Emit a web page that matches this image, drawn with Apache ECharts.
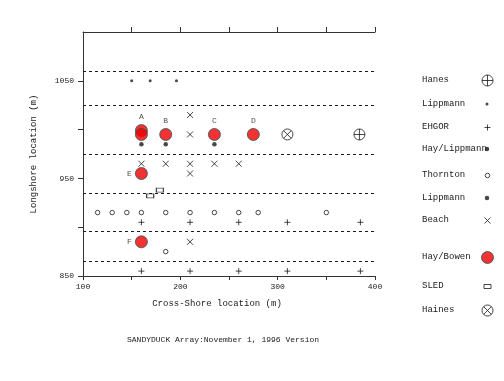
<!DOCTYPE html>
<html><head><meta charset="utf-8">
<script src="https://cdn.jsdelivr.net/npm/echarts@6/dist/echarts.min.js"></script>
<style>html,body{margin:0;padding:0;background:#fff}#c{width:504px;height:381px}</style>
</head><body><div id="c"></div>
<script>
// ---------------- data ----------------
const xTickLabels = [100, 200, 300, 400];
const yTickLabels = [850, 950, 1050];
const yTicks = [850, 900, 950, 1000, 1050];
const xTopTicks = [150, 200, 250, 300, 350, 400];
const boundaryY = [1060, 1025, 975, 935, 896, 865];
const hanes = [[384, 995]];
const lippmannSmall = [[150, 1050], [169, 1050], [196, 1050]];
const ehgor = [[160, 905], [210, 905], [260, 905], [310, 905], [385, 905],
               [160, 855], [210, 855], [260, 855], [310, 855], [385, 855]];
const hayLippmann = [[160, 985], [185, 985], [235, 985]];
const thornton = [[115, 915], [130, 915], [145, 915], [160, 915], [185, 915], [210, 915],
                  [235, 915], [260, 915], [280, 915], [350, 915], [185, 875]];
const lippmannLarge = [];
const beach = [[210, 1015], [210, 995], [160, 965], [185, 965], [210, 965], [235, 965],
               [260, 965], [210, 955], [210, 885]];
const hayBowen = [[160, 999], [160, 995], [185, 995], [235, 995], [275, 995], [160, 955], [160, 885]];
const hayBowenLetters = ['A', '', 'B', 'C', 'D', 'E', 'F'];
const sled = [[169, 932], [179, 938]];
const haines = [[310, 995]];
const legendLabels = ['Hanes', 'Lippmann', 'EHGOR', 'Hay/Lippmann', 'Thornton', 'Lippmann', 'Beach', 'Hay/Bowen', 'SLED', 'Haines'];
const xTitle = 'Cross-Shore location (m)';
const yTitle = 'Longshore location (m)';
const caption = 'SANDYDUCK Array:November 1, 1996 Version';

// ---------------- styles / layout ----------------
const FONT = '"Liberation Mono", "DejaVu Sans Mono", monospace';
const INK = '#1a1a1a';
const SYM = {
  circlePlus: 'path://M0,6A6,6,0,1,0,12,6A6,6,0,1,0,0,6ZM0,6L12,6M6,0L6,12',
  circleX: 'path://M0,6A6,6,0,1,0,12,6A6,6,0,1,0,0,6ZM1.76,1.76L10.24,10.24M10.24,1.76L1.76,10.24',
  plus: 'path://M0,5L10,5M5,0L5,10',
  cross: 'path://M0,0L10,10M10,0L0,10'
};
const stroked = {color: 'transparent', borderColor: INK, borderWidth: 1};
const seriesDefs = [
  {id: 's0', data: hanes, symbol: SYM.circlePlus, size: [11, 11], style: stroked},
  {id: 's1', data: lippmannSmall, symbol: 'circle', size: [3, 3], style: {color: INK}},
  {id: 's2', data: ehgor, symbol: SYM.plus, size: [6, 6], style: stroked},
  {id: 's3', data: hayLippmann, symbol: 'circle', size: [4.5, 4.5], style: {color: INK}},
  {id: 's4', data: thornton, symbol: 'circle', size: [4.5, 4.5], style: {color: '#fff', borderColor: INK, borderWidth: 1}},
  {id: 's5', data: lippmannLarge, symbol: 'circle', size: [4.5, 4.5], style: {color: INK}},
  {id: 's6', data: beach, symbol: SYM.cross, size: [6, 6], style: stroked},
  {id: 's7', data: hayBowen, symbol: 'circle', size: [12, 12], style: {color: '#f00000', borderColor: '#2f4f4f', borderWidth: 1}},
  {id: 's8', data: sled, symbol: 'rect', size: [7, 4], style: {color: '#fff', borderColor: INK, borderWidth: 1}},
  {id: 's9', data: haines, symbol: SYM.circleX, size: [11, 11], style: stroked}
];
const legendRowY = [80, 104, 127, 149, 175, 198, 220, 257, 286, 310];
const legendTextX = 422, legendIconX = 487;

const series = seriesDefs.map((d, i) => ({
  type: 'scatter', name: d.id, z: 3 + i,
  symbol: d.symbol, symbolSize: d.size, symbolKeepAspect: false,
  itemStyle: d.style, emphasis: {disabled: true},
  data: d.data
}));
// Hay/Bowen letters
series[7].data = hayBowen.map((p, i) => ({
  value: p, name: hayBowenLetters[i],
  label: {show: hayBowenLetters[i] !== '',
          position: (hayBowenLetters[i] === 'E' || hayBowenLetters[i] === 'F') ? 'left' : 'top',
          distance: 3, formatter: '{b}', fontFamily: FONT, fontSize: 8, color: INK}
}));
// dashed boundary lines
series[2].markLine = {
  silent: true, symbol: ['none', 'none'], label: {show: false}, animation: false,
  lineStyle: {type: [3, 3], color: INK, width: 1},
  emphasis: {disabled: true},
  data: boundaryY.map(v => ({yAxis: v}))
};

const legends = seriesDefs.map((d, i) => ({
  data: [{name: d.id, icon: d.symbol, itemStyle: d.style}],
  left: legendIconX - d.size[0] / 2,
  top: legendRowY[i] - d.size[1] / 2,
  itemWidth: d.size[0], itemHeight: d.size[1],
  padding: 0, formatter: () => '', selectedMode: false
}));

const graphics = legendLabels.map((t, i) => ({
  type: 'text', x: legendTextX, y: legendRowY[i], silent: true,
  style: {text: t, font: '9px ' + FONT, fill: INK, verticalAlign: 'middle'}
}));

const axisCommon = {
  axisLine: {show: true, lineStyle: {color: '#333', width: 1}},
  splitLine: {show: false}
};

const chart = echarts.init(document.getElementById('c'), null, {renderer: 'canvas'});
chart.setOption({
  animation: false,
  backgroundColor: '#fff',
  title: {text: caption, left: 122, top: 331,
          textStyle: {fontFamily: FONT, fontSize: 8, fontWeight: 'normal', color: INK}},
  grid: {left: 83, right: 129, top: 32, bottom: 105},
  xAxis: [
    Object.assign({
      type: 'value', position: 'bottom', min: 100, max: 400, interval: 50,
      name: xTitle, nameLocation: 'middle', nameGap: 23,
      nameTextStyle: {fontFamily: FONT, fontSize: 9, color: INK, padding: [0, 24, 0, 0]},
      axisTick: {show: true, length: 4, lineStyle: {color: '#333'}},
      axisLabel: {margin: 7, fontFamily: FONT, fontSize: 8, color: INK,
                  formatter: v => xTickLabels.includes(v) ? String(v) : ''}
    }, axisCommon),
    Object.assign({
      type: 'value', position: 'top', min: 100, max: 400, interval: 50,
      axisTick: {show: true, length: 5, customValues: xTopTicks, lineStyle: {color: '#333'}},
      axisLabel: {show: false}
    }, axisCommon)
  ],
  yAxis: Object.assign({
    type: 'value', min: 850, max: 1100, interval: 50,
    name: yTitle, nameLocation: 'middle', nameGap: 45, nameRotate: 90,
    nameTextStyle: {fontFamily: FONT, fontSize: 9, color: INK},
    axisTick: {show: true, length: 5, customValues: yTicks, lineStyle: {color: '#333'}},
    axisLabel: {margin: 9, fontFamily: FONT, fontSize: 8, color: INK,
                formatter: v => yTickLabels.includes(v) ? String(v) : ''}
  }, axisCommon),
  legend: legends,
  graphic: graphics,
  series: series
});
</script></body></html>
